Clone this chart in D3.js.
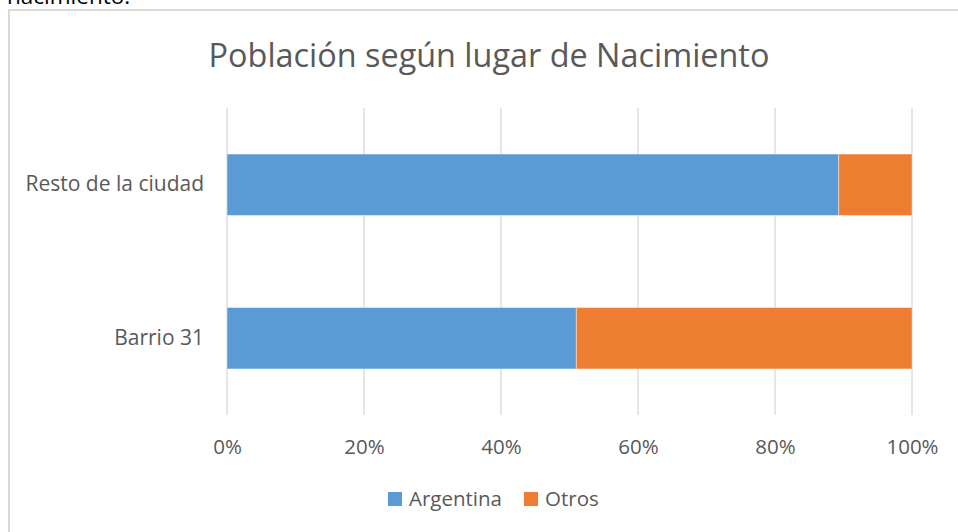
<!DOCTYPE html>
<html>
<head>
<meta charset="utf-8">
<script src="https://cdn.jsdelivr.net/npm/d3@7"></script>
<style>
  body { margin: 0; background: #fff; }
  svg { display: block; font-family: "Open Sans", "Liberation Sans", sans-serif; }
</style>
</head>
<body>
<div id="chart"></div>
<script>
// data (percent shares)
var categories = ["Resto de la ciudad", "Barrio 31"];
var seriesNames = ["Argentina", "Otros"];
var argentina = [89.3, 51.0];
var otros = [10.7, 49.0];
var xTicks = [0, 20, 40, 60, 80, 100];
var colors = ["#5b9bd5", "#ed7d31"];

var W = 958, H = 532;
var svg = d3.select("#chart").append("svg").attr("width", W).attr("height", H);

// text cut off above the chart box
svg.append("text").attr("x", 7).attr("y", 3.5).attr("font-size", 22.5).attr("fill", "#000").text("nacimiento.");

// chart box
svg.append("rect").attr("x", 9).attr("y", 10).attr("width", W + 10).attr("height", H + 10)
  .attr("fill", "#fff").attr("stroke", "#d9d9d9").attr("stroke-width", 2);

svg.append("text").attr("x", 489).attr("y", 67).attr("text-anchor", "middle")
  .attr("font-size", 32.4).attr("fill", "#595959").text("Población según lugar de Nacimiento");

var x = d3.scaleLinear().domain([0, 100]).range([227, 912]);
var y = d3.scaleBand().domain(categories).range([108, 415]).paddingInner(0.6).paddingOuter(0.3);

// gridlines
svg.append("g").selectAll("line").data(xTicks).enter().append("line")
  .attr("x1", function(d) { return x(d); }).attr("x2", function(d) { return x(d); })
  .attr("y1", 108).attr("y2", 415)
  .attr("stroke", "#d9d9d9").attr("stroke-width", 1.3);

var rows = categories.map(function(c, i) { return {cat: c, Argentina: argentina[i], Otros: otros[i]}; });
var stacked = d3.stack().keys(seriesNames)(rows);

svg.append("g").selectAll("g").data(stacked).enter().append("g")
  .attr("fill", function(d, i) { return colors[i]; })
  .selectAll("rect").data(function(d) { return d; }).enter().append("rect")
  .attr("x", function(d) { return x(d[0]); })
  .attr("width", function(d) { return x(d[1]) - x(d[0]); })
  .attr("y", function(d) { return y(d.data.cat); })
  .attr("height", y.bandwidth())
  .attr("stroke", "#fff").attr("stroke-opacity", 0.4).attr("stroke-width", 1);

// x axis labels
var xAxis = svg.append("g").attr("transform", "translate(0,415)")
  .call(d3.axisBottom(x).tickValues(xTicks).tickSize(0).tickPadding(24).tickFormat(function(d) { return d + "%"; }));
xAxis.select(".domain").remove();
xAxis.selectAll("text").attr("font-size", 20.5).attr("fill", "#595959").attr("font-family", "Open Sans");

// y axis labels
var yAxis = svg.append("g").attr("transform", "translate(227,0)")
  .call(d3.axisLeft(y).tickSize(0).tickPadding(23));
yAxis.select(".domain").remove();
yAxis.selectAll("text").attr("font-size", 21).attr("fill", "#595959").attr("font-family", "Open Sans");

// legend
var legend = svg.append("g").attr("transform", "translate(0,499)");
var legX = [388, 524];
seriesNames.forEach(function(s, i) {
  legend.append("rect").attr("x", legX[i]).attr("y", -7).attr("width", 14).attr("height", 14).attr("fill", colors[i]);
  legend.append("text").attr("x", legX[i] + 21).attr("y", 0).attr("dy", "0.35em")
    .attr("font-size", 20.5).attr("fill", "#595959").text(s);
});
</script>
</body>
</html>
